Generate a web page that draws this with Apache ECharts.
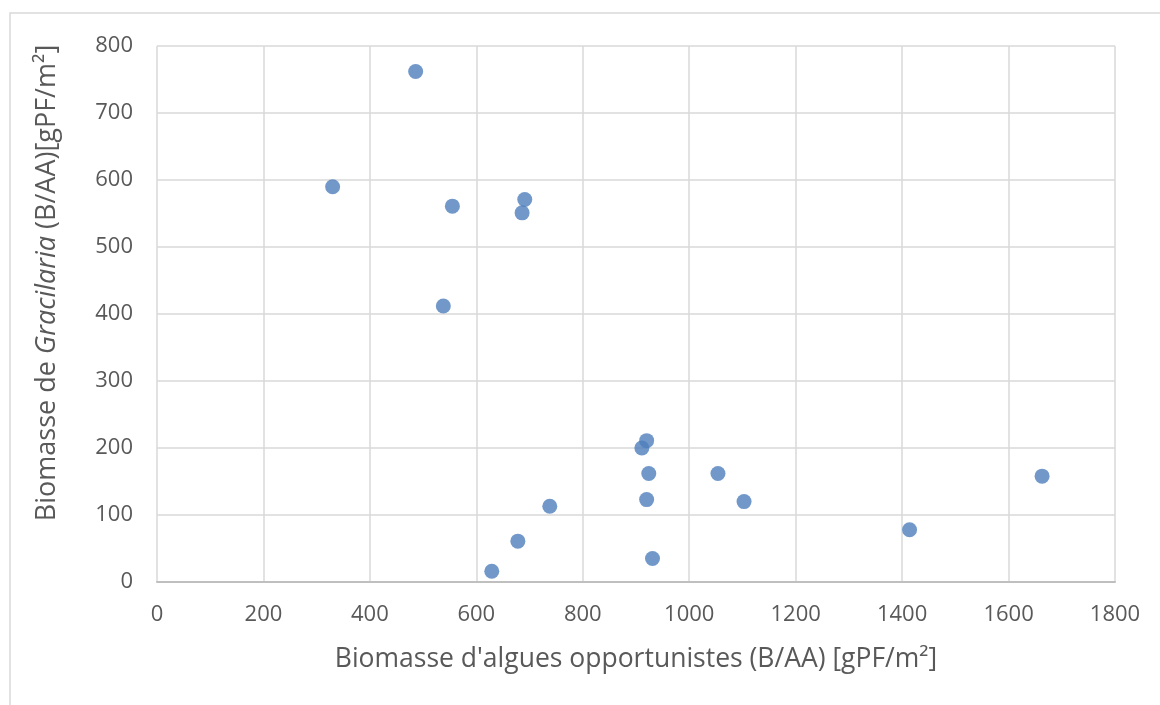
<!DOCTYPE html>
<html>
<head>
<meta charset="utf-8">
<script src="https://cdn.jsdelivr.net/npm/echarts@6/dist/echarts.min.js"></script>
<style>
  html, body { margin: 0; padding: 0; background: #fff; }
  #chart { width: 1160px; height: 705px; }
</style>
</head>
<body>
<div id="chart"></div>
<script>
// biomass of opportunistic algae (x) vs Gracilaria (y), gPF/m²
const algues = [330, 486, 555, 538, 691, 686, 920, 911, 924, 920, 931, 1054, 1103, 1414, 1663, 738, 678, 629];
const gracilaria = [590, 762, 561, 412, 571, 551, 211, 200, 162, 123, 35, 162, 120, 78, 158, 113, 61, 16];

const points = algues.map((x, i) => [x, gracilaria[i]]);

const font = '"Open Sans", sans-serif';
const chart = echarts.init(document.getElementById('chart'));
chart.setOption({
  animation: false,
  textStyle: { fontFamily: font },
  graphic: [{
    type: 'rect',
    shape: { x: 10, y: 13, width: 1200, height: 760 },
    style: { fill: 'none', stroke: '#d9d9d9', lineWidth: 1.5 },
    silent: true
  }],
  grid: { left: 157, right: 45, top: 46, bottom: 123 },
  xAxis: {
    type: 'value',
    min: 0, max: 1800, interval: 200,
    name: "Biomasse d'algues opportunistes (B/AA) [gPF/m²]",
    nameLocation: 'middle',
    nameGap: 64,
    nameTextStyle: { fontSize: 26.5, color: '#595959' },
    axisLine: { show: true, lineStyle: { color: '#bfbfbf', width: 2 } },
    axisTick: { show: false },
    axisLabel: { fontSize: 22, color: '#595959', margin: 22, formatter: v => String(v) },
    splitLine: { lineStyle: { color: '#d9d9d9', width: 1.5 } }
  },
  yAxis: {
    type: 'value',
    min: 0, max: 800, interval: 100,
    name: '{n|Biomasse de }{i|Gracilaria}{n| (B/AA)[gPF/m²]}',
    nameLocation: 'middle',
    nameRotate: 90,
    nameGap: 96,
    nameTextStyle: {
      // title sits a bit above the plot centre in the original
      padding: [0, 0, 0, 62],
      rich: {
        n: { fontSize: 27, color: '#595959', fontFamily: font },
        i: { fontSize: 27, color: '#595959', fontStyle: 'italic', fontFamily: font }
      }
    },
    axisLine: { show: false },
    axisTick: { show: false },
    axisLabel: { fontSize: 22, color: '#595959', margin: 24 },
    splitLine: { lineStyle: { color: '#d9d9d9', width: 1.5 } }
  },
  series: [{
    type: 'scatter',
    data: points,
    symbolSize: 15,
    itemStyle: { color: '#4e7ebb' }
  }]
});
</script>
</body>
</html>
